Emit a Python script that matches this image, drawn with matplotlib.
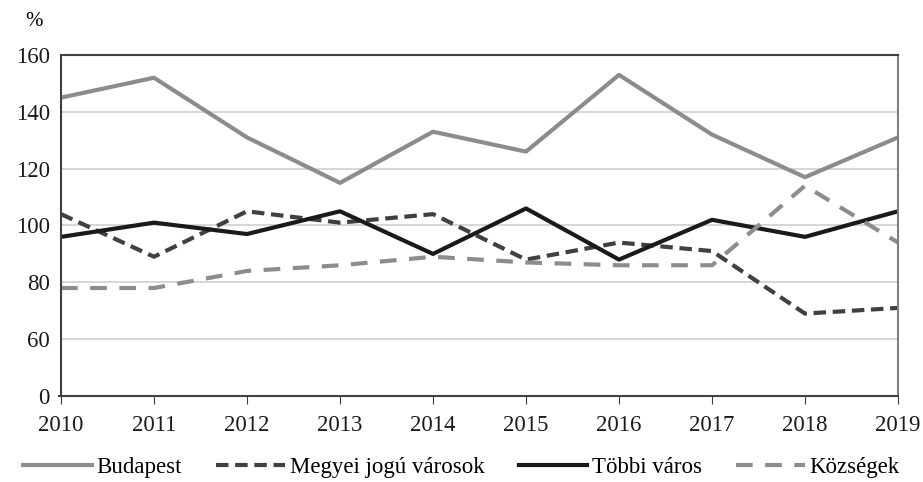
import matplotlib.pyplot as plt

years = [2010, 2011, 2012, 2013, 2014, 2015, 2016, 2017, 2018, 2019]
budapest = [145, 152, 131, 115, 133, 126, 153, 132, 117, 131]
megyei = [104, 89, 105, 101, 104, 88, 94, 91, 69, 71]
tobbi = [96, 101, 97, 105, 90, 106, 88, 102, 96, 105]
kozsegek = [78, 78, 84, 86, 89, 87, 86, 86, 114, 94]

ytick_vals = [40, 60, 80, 100, 120, 140, 160]
ytick_labels = ['0', '60', '80', '100', '120', '140', '160']

plt.rcParams['font.family'] = ['Liberation Serif', 'DejaVu Serif']

fig = plt.figure(figsize=(9.23, 4.82), dpi=100)
ax = fig.add_axes([61 / 923, 1 - 396 / 482, (898 - 61) / 923, (396 - 55) / 482])

ax.plot(years, budapest, color='#8c8c8c', lw=3, label='Budapest')
ax.plot(years, megyei, color='#404040', lw=3, dashes=(3, 1.6), label='Megyei jogú városok')
ax.plot(years, tobbi, color='#1a1a1a', lw=3, label='Többi város')
ax.plot(years, kozsegek, color='#8c8c8c', lw=3, dashes=(4, 3), label='Községek')

ax.set_xlim(2010, 2019)
ax.set_ylim(40, 160)
ax.set_xticks(years)
ax.set_yticks(ytick_vals)
ax.set_yticklabels(ytick_labels)
ax.tick_params(labelsize=16.5, colors='#1a1a1a')
ax.tick_params(axis='x', length=6, color='#404040', pad=8)
ax.tick_params(axis='y', length=0, pad=8)
ax.grid(axis='y', color='#d0d0d0', lw=1.2)
ax.set_axisbelow(True)

for side in ['left', 'bottom', 'top']:
    ax.spines[side].set_color('#404040')
    ax.spines[side].set_linewidth(1.5)
ax.spines['right'].set_color('#808080')
ax.spines['right'].set_linewidth(1.5)

# tick mark for 0 on y axis
ax.plot([2010 - 0.02, 2010], [40, 40], color='#404040', lw=1.5, clip_on=False)

fig.text(25 / 923, 1 - 22 / 482, '%', fontsize=15, ha='left', va='center')

fig.legend(loc='center', bbox_to_anchor=(0.5, 1 - 467 / 482), ncol=4, frameon=False,
           fontsize=16.5, handlelength=3, handletextpad=0.2, columnspacing=1.5)

fig.savefig('out.png', dpi=100)
